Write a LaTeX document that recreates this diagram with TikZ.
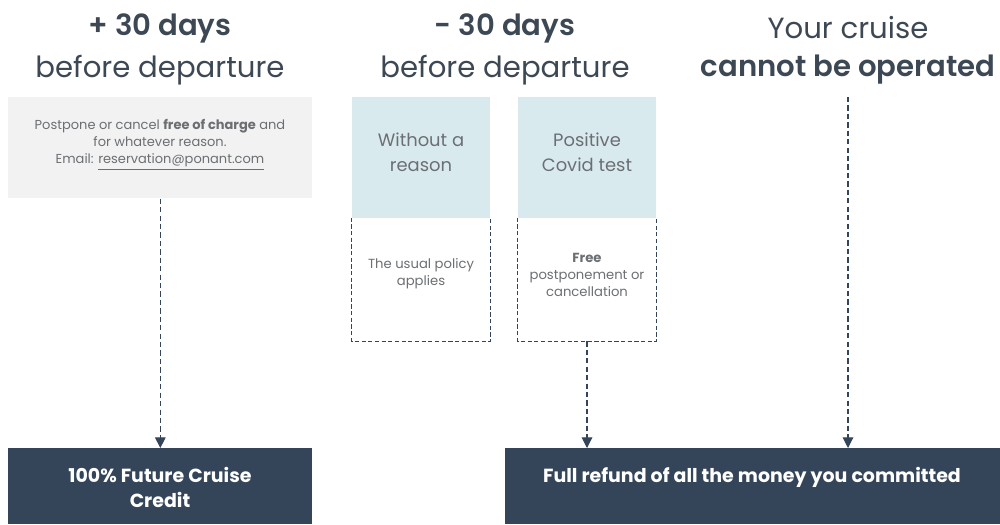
\documentclass[tikz,border=0pt]{standalone}
\usepackage{fontspec}
\setmainfont{Poppins}
\newfontfamily\headsemi{Poppins SemiBold}
\usetikzlibrary{arrows.meta}

\definecolor{slate}{HTML}{34455A}
\definecolor{inkgray}{HTML}{3D4855}
\definecolor{textgray}{HTML}{6B6F73}
\definecolor{palegray}{HTML}{F2F2F2}
\definecolor{paleblue}{HTML}{D9EAEF}

\tikzset{
  head/.style={text=inkgray, font=\fontsize{16.6}{20}\selectfont},
  headbold/.style={head, font=\headsemi\fontsize{16.6}{20}\selectfont},
  greybox/.style={fill=palegray, minimum width=6.08cm, minimum height=2.02cm, align=center, text=textgray, font=\fontsize{7.4}{9.6}\selectfont, inner sep=0pt},
  bluebox/.style={fill=paleblue, minimum width=2.76cm, minimum height=2.42cm, align=center, text=textgray, font=\fontsize{10.2}{14.2}\selectfont, inner sep=0pt},
  dashbox/.style={minimum width=2.76cm, minimum height=2.46cm, inner sep=0pt},
  small/.style={align=center, text=textgray, font=\fontsize{7.5}{9.6}\selectfont, inner sep=0pt},
  darkbox/.style={fill=slate, text=white, align=center, font=\bfseries\fontsize{10.8}{14.2}\selectfont, inner sep=0pt},
  flow/.style={slate, dash pattern=on 3pt off 1.8pt, line width=0.6pt, -{Triangle[width=6pt,length=6pt]}},
  rim/.style={slate, dash pattern=on 2.4pt off 1.4pt, line width=0.6pt}
}

\begin{document}
\begin{tikzpicture}[x=0.02cm, y=-0.02cm]
\useasboundingbox (0,0) rectangle (1000,524);

% headers
\draw(160,28) node[headbold] (h1a) {+ 30 days};
\draw(160,70) node[head] (h1b) {before departure};
\draw(505,28) node[headbold] (h2a) {- 30 days};
\draw(505,70) node[head] (h2b) {before departure};
\draw(848,28) node[head] (h3a) {Your cruise};
\draw(848,70) node[headbold] (h3b) {cannot be operated};

% boxes
\draw(8,97) node[greybox, anchor=north west] (early) {};
\draw(160,145) node[small, font=\fontsize{7.4}{9.6}\selectfont] (earlytxt) {Postpone or cancel \textbf{free of charge} and\\for whatever reason.\\Email: \underline{reservation@ponant.com}};
\draw(421,157.5) node[bluebox] (noreason) {};
\draw(421,152) node[bluebox, fill=none, minimum height=0pt] (noreasontxt) {Without a\\reason};
\draw(587,157.5) node[bluebox] (covid) {};
\draw(587,152) node[bluebox, fill=none, minimum height=0pt] (covidtxt) {Positive\\Covid test};
\draw(421,279.5) node[dashbox] (usual) {};
\draw(421,274) node[small] (usualtxt) {The usual policy\\applies};
\draw(587,279.5) node[dashbox] (free) {};
\draw(587,275) node[small] (freetxt) {\textbf{Free}\\postponement or\\cancellation};
\draw[rim] (usual.north west) -- (usual.south west) -- (usual.south east) -- (usual.north east);
\draw[rim] (free.north west) -- (free.south west) -- (free.south east) -- (free.north east);

\draw(8,448) node[darkbox, anchor=north west, minimum width=6.08cm, minimum height=1.52cm] (credit) {};
\draw(160,487.5) node[darkbox] (creditlbl) {100\% Future Cruise\\Credit};
\draw(505,448) node[darkbox, anchor=north west, minimum width=9.9cm, minimum height=1.52cm] (refund) {};
\draw(752,477) node[darkbox] (refundlbl) {Full refund of all the money you committed};

\coordinate (cancelled) at (848,97);

% arrows
\draw[flow] (early.south) -- (early.south |- credit.north);
\draw[flow] (free.south) -- (free.south |- refund.north);
\draw[flow] (cancelled) -- (cancelled |- refund.north);

\end{tikzpicture}
\end{document}
